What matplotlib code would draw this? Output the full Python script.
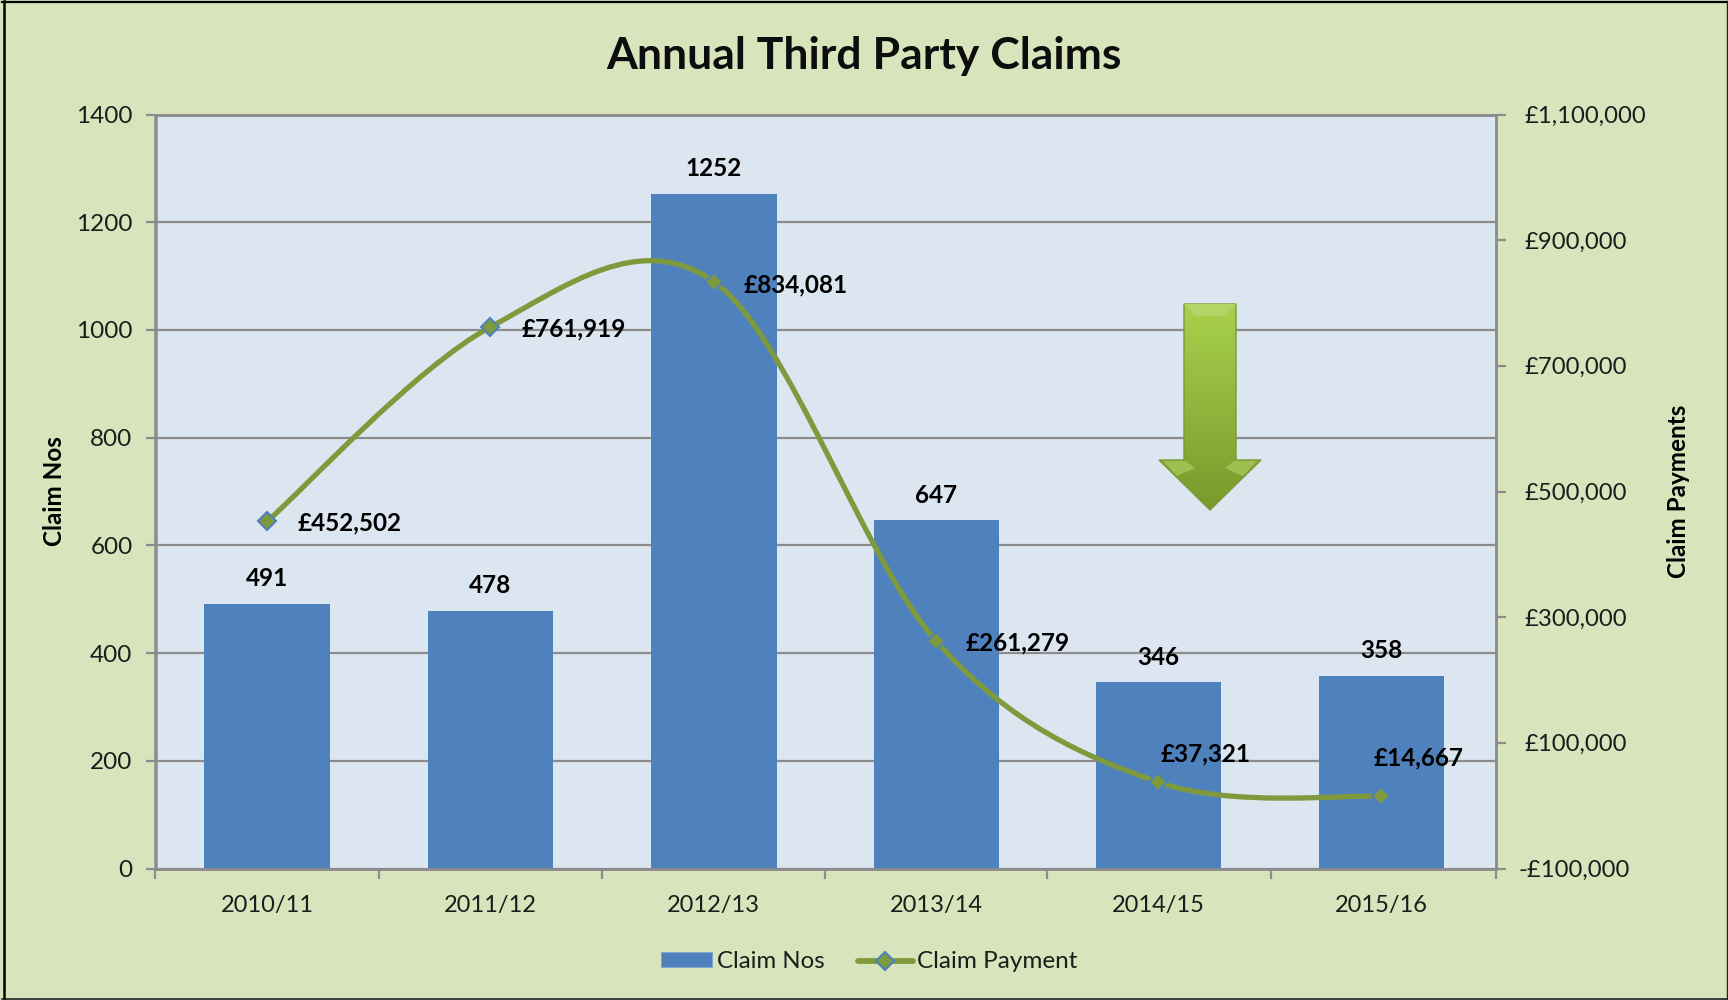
import numpy as np
import matplotlib
matplotlib.use('Agg')
import matplotlib.pyplot as plt
from matplotlib.path import Path
from matplotlib.patches import PathPatch, Polygon, Rectangle
from matplotlib.lines import Line2D
from matplotlib.transforms import ScaledTranslation

plt.rcParams['font.family'] = ['Lato', 'DejaVu Sans']

categories = ['2010/11', '2011/12', '2012/13', '2013/14', '2014/15', '2015/16']
claim_nos = [491, 478, 1252, 647, 346, 358]
claim_payment = [452502, 761919, 834081, 261279, 37321, 14667]
payment_labels = ['£452,502', '£761,919', '£834,081', '£261,279', '£37,321', '£14,667']
left_ticks = [0, 200, 400, 600, 800, 1000, 1200, 1400]
right_ticks = [-100000, 100000, 300000, 500000, 700000, 900000, 1100000]
right_tick_labels = ['-£100,000', '£100,000', '£300,000', '£500,000', '£700,000', '£900,000', '£1,100,000']

W, H = 1728, 1000
BG = '#d8e4bc'
PLOT = '#dce6f1'
BLUE = '#4f81bd'
GREEN = '#7f9a3c'
GRID = '#8c8c8c'
TXT = '#1c1c1c'

fig = plt.figure(figsize=(W / 100, H / 100), dpi=100, facecolor=BG)
L, R, T, B = 155.5, 1495.5, 114.5, 868.5
ax = fig.add_axes([L / W, 1 - B / H, (R - L) / W, (B - T) / H], facecolor=PLOT)
x = np.arange(len(categories))
# the reference's last categories sit a pixel or two left of an even spacing
x_shift = np.array([0, 0, 0, -0.003, -0.009, -0.011])
xs = x + x_shift
ax.set_xlim(-0.5, 5.5)
ax.set_ylim(0, 1400)
ax.set_axisbelow(True)
ax.yaxis.grid(True, color=GRID, lw=1.6)
ax.bar(xs, claim_nos, width=0.5625, color=BLUE, zorder=2)
ax.set_yticks(left_ticks)
ax.set_xticks(xs)
ax.set_xticklabels(categories)
ax.set_xticks(np.arange(-0.5, 6, 1) + np.array([0, 0, 0, 0, -0.006, -0.006, 0]), minor=True)
ax.tick_params(axis='x', which='major', length=0, pad=19, labelsize=17, labelcolor=TXT)
ax.tick_params(axis='x', which='minor', length=7, width=1.6, color=GRID)
ax.tick_params(axis='y', length=7, width=1.6, color=GRID, pad=9.5, labelsize=17.5, labelcolor=TXT)
for s in ax.spines.values():
    s.set_color(GRID)
    s.set_linewidth(1.8)

ax2 = ax.twinx()
ax2.set_ylim(-100000, 1100000)
ax2.set_yticks(right_ticks)
ax2.set_yticklabels(right_tick_labels)
ax2.tick_params(axis='y', length=7, width=1.6, color=GRID, pad=14, labelsize=17.2, labelcolor=TXT)
first = ax2.get_yticklabels()[0]
first.set_transform(first.get_transform() + ScaledTranslation(-0.066, 0, fig.dpi_scale_trans))
ax2.patch.set_visible(False)
for s in ax2.spines.values():
    s.set_color(GRID)
    s.set_linewidth(1.8)

# smoothed line through the data points (Bezier segments between values)
px, py = xs.astype(float), np.array(claim_payment, dtype=float)
verts = [(px[0], py[0])]
codes = [Path.MOVETO]
for i in range(len(px) - 1):
    p0 = (px[max(i - 1, 0)], py[max(i - 1, 0)])
    p1 = (px[i], py[i])
    p2 = (px[i + 1], py[i + 1])
    p3 = (px[min(i + 2, len(px) - 1)], py[min(i + 2, len(px) - 1)])
    c1 = (p1[0] + (p2[0] - p0[0]) / 6, p1[1] + (p2[1] - p0[1]) / 6)
    c2 = (p2[0] - (p3[0] - p1[0]) / 6, p2[1] - (p3[1] - p1[1]) / 6)
    verts += [c1, c2, p2]
    codes += [Path.CURVE4] * 3
ax2.add_patch(PathPatch(Path(verts, codes), fill=False, ec=GREEN, lw=3.8, capstyle='round', zorder=3))
ax2.plot(px, py, ls='none', marker='D', ms=9, mfc=GREEN, mec=BLUE, mew=1.5, zorder=4)

bar_offs = [(0, 26), (0, 26), (0, 26), (0, 25), (0, 25), (0, 25)]
for i, v in enumerate(claim_nos):
    ax.annotate(str(v), (xs[i], v), xytext=bar_offs[i], textcoords='offset pixels', ha='center', va='center',
                fontsize=17.5, fontweight='bold', color='black', zorder=6)
pay_offs = [(82, -2), (83, -2), (82, -3), (81, -1), (47, 28), (37, 39)]
for i, v in enumerate(claim_payment):
    ax2.annotate(payment_labels[i], (xs[i], v), xytext=pay_offs[i], textcoords='offset pixels', ha='center', va='center',
                 fontsize=17.5, fontweight='bold', color='black', zorder=6)

# overlay in pixel coordinates: title, axis titles, arrow, frame, legend
ov = fig.add_axes([0, 0, 1, 1], facecolor='none')
ov.set_xlim(0, W)
ov.set_ylim(H, 0)
ov.axis('off')

ov.text(864, 56, 'Annual Third Party Claims', ha='center', va='center', fontsize=32, fontweight='bold', color='#0d0d0d')
ov.text(55, 491.5, 'Claim Nos', rotation=90, ha='center', va='center', fontsize=17.5, fontweight='bold', color='black')
ov.text(1679, 491.5, 'Claim Payments', rotation=90, ha='center', va='center', fontsize=17.5, fontweight='bold', color='black')

arrow = [(1184, 304), (1236, 304), (1236, 460), (1261, 460), (1210, 510), (1159, 460), (1184, 460)]
grad = np.linspace(0, 1, 256)[:, None]
c_top, c_bot = np.array([0.66, 0.82, 0.30]), np.array([0.47, 0.60, 0.17])
img = (c_top[None, :] * (1 - grad) + c_bot[None, :] * grad)[:, None, :]
im = ov.imshow(img, extent=(1159, 1261, 510, 304), aspect='auto', zorder=5)
clip = Polygon(arrow, closed=True, transform=ov.transData, fc='none', ec='none')
ov.add_patch(clip)
im.set_clip_path(clip)
ov.add_patch(Polygon(arrow, closed=True, fc='none', ec='#7d9a35', lw=1, zorder=6))
ov.add_patch(Polygon([(1184, 304), (1236, 304), (1225, 316), (1195, 316)], fc='#b4d468', ec='none', zorder=6))
ov.add_patch(Polygon([(1163, 461), (1186, 461), (1195, 468), (1177, 476)], fc='#a0bf52', ec='none', zorder=6))
ov.add_patch(Polygon([(1257, 461), (1234, 461), (1225, 468), (1243, 476)], fc='#a0bf52', ec='none', zorder=6))
ov.set_xlim(0, W)
ov.set_ylim(H, 0)

# image frame: heavier on the left and top than on the right and bottom
ov.add_line(Line2D([3.5, 3.5], [1, 1000], color='black', lw=1.8))
ov.add_line(Line2D([2, 1728], [2.3, 2.3], color='black', lw=1.6))
ov.add_line(Line2D([1726.7, 1726.7], [1, 1000], color='#222222', lw=1.0))
ov.add_line(Line2D([2, 1728], [999, 999], color='#222222', lw=1.2))

ov.add_patch(Rectangle((661, 952), 51, 15, fc=BLUE, ec='#7fa3cf', lw=0.6))
ov.text(717, 961, 'Claim Nos', ha='left', va='center', fontsize=17.3, color=TXT)
ov.add_line(Line2D([858, 913], [960.5, 960.5], color=GREEN, lw=4.2, solid_capstyle='round'))
ov.plot([885], [960.5], marker='D', ms=9.5, mfc=GREEN, mec=BLUE, mew=1.5)
ov.text(917, 961, 'Claim Payment', ha='left', va='center', fontsize=17.5, color=TXT)

fig.savefig('out.png', dpi=100, facecolor=BG)
